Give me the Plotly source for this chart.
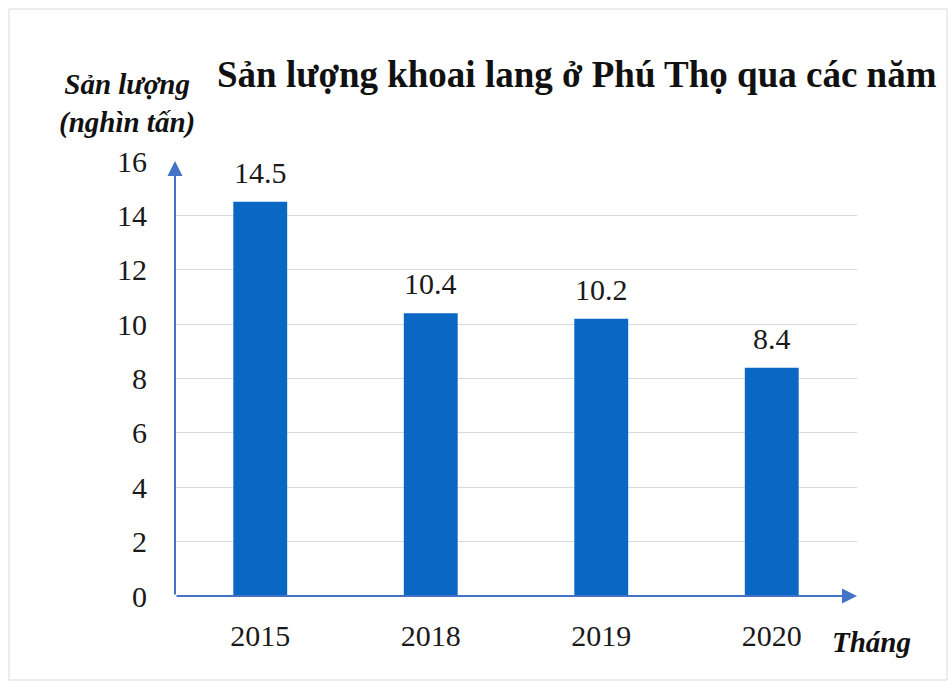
import plotly.graph_objects as go

years = ["2015", "2018", "2019", "2020"]
values = [14.5, 10.4, 10.2, 8.4]
y_ticks = [0, 2, 4, 6, 8, 10, 12, 14, 16]

title_text = "Sản lượng khoai lang ở Phú Thọ qua các năm"
y_label = "Sản lượng<br>(nghìn tấn)"
x_label = "Tháng"

serif = "Liberation Serif, Times New Roman, serif"
axis_color = "#4472c4"
text_color = "#1a1a1a"

L, R, T, B = 175, 93, 161, 90
W, H = 950, 686
pw, ph = W - L - R, H - T - B

fig = go.Figure()
fig.add_trace(go.Bar(
    x=years, y=values,
    marker=dict(color="#0a67c3", line=dict(width=0)),
    width=0.316,
    hoverinfo="x+y",
))

annotations = []
for i, v in enumerate(values):
    annotations.append(dict(
        x=i, y=v, xref="x", yref="y", text=str(v), showarrow=False,
        yanchor="bottom", xanchor="center", yshift=11,
        font=dict(family=serif, size=30, color=text_color)))

annotations += [
    dict(text="<b>" + title_text + "</b>", xref="paper", yref="paper",
         x=(577 - L) / pw, y=(H - B - 75) / ph, xanchor="center", yanchor="middle",
         showarrow=False, font=dict(family=serif, size=37, color="#111111")),
    dict(text="<b><i>" + y_label + "</i></b>", xref="paper", yref="paper",
         x=(127 - L) / pw, y=(H - B - 104) / ph, xanchor="center", yanchor="middle",
         showarrow=False, font=dict(family=serif, size=29, color="#111111"),
         align="center"),
    dict(text="<b><i>" + x_label + "</i></b>", xref="paper", yref="paper",
         x=(871 - L) / pw, y=(H - B - 642) / ph, xanchor="center", yanchor="middle",
         showarrow=False, font=dict(family=serif, size=29, color="#111111")),
    # y axis arrow
    dict(xref="paper", yref="paper", x=0, y=1.0, ax=0, ay=ph,
         axref="pixel", ayref="pixel", text="", showarrow=True,
         arrowhead=2, arrowsize=1.5, arrowwidth=2, arrowcolor=axis_color),
    # x axis arrow
    dict(xref="paper", yref="paper", x=1.0, y=0, ax=-pw, ay=0,
         axref="pixel", ayref="pixel", text="", showarrow=True,
         arrowhead=2, arrowsize=1.5, arrowwidth=2, arrowcolor=axis_color),
]

fig.update_layout(
    width=W, height=H,
    margin=dict(l=L, r=R, t=T, b=B),
    paper_bgcolor="white", plot_bgcolor="white",
    showlegend=False,
    font=dict(family=serif, color=text_color),
    xaxis=dict(
        type="category", range=[-0.5, 3.5],
        showline=False, showgrid=False, zeroline=False,
        ticks="", tickfont=dict(family=serif, size=30, color=text_color),
        ticklabelstandoff=19,
    ),
    yaxis=dict(
        range=[0, 16], tickvals=y_ticks,
        showline=False, zeroline=False,
        showgrid=True, gridcolor="#d9d9d9", gridwidth=1,
        ticks="", tickfont=dict(family=serif, size=30, color=text_color),
        ticklabelstandoff=27,
    ),
    annotations=annotations,
)

# outer light border
fig.add_shape(type="rect", xref="paper", yref="paper",
              x0=(9 - L) / pw, x1=(947 - L) / pw,
              y0=(H - B - 680) / ph, y1=(H - B - 9) / ph,
              line=dict(color="#d9d9d9", width=1), layer="below")

fig.write_html("out.html", config={"displayModeBar": False},
               post_script="document.body.style.margin='0px';")
